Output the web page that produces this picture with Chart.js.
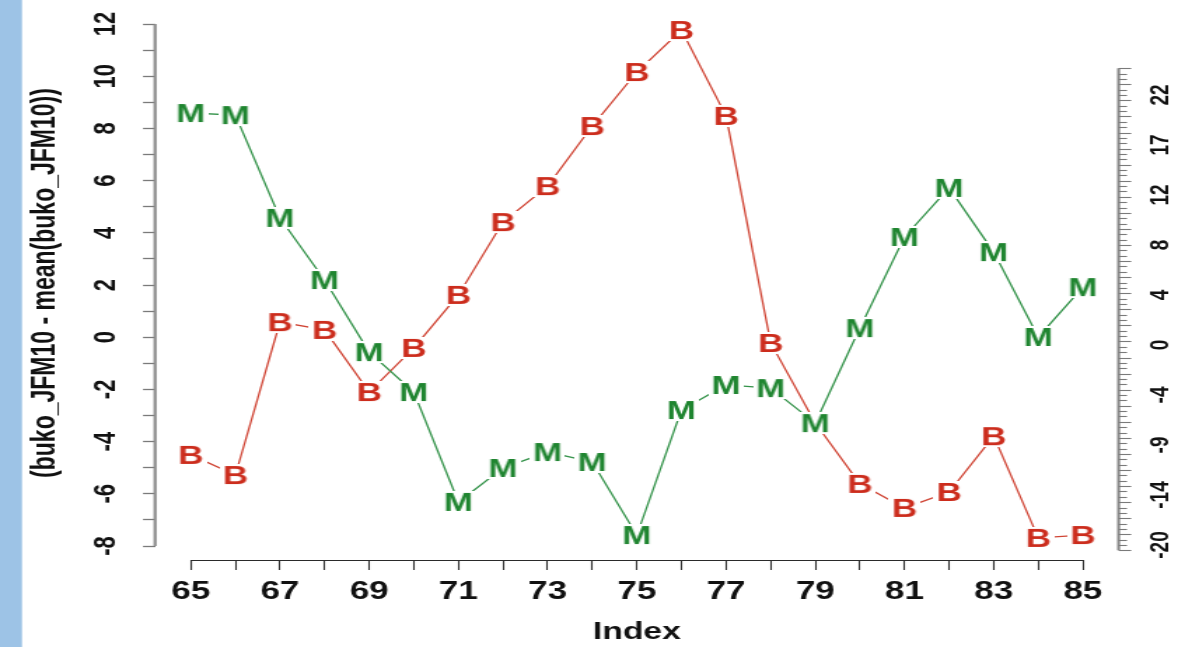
<!DOCTYPE html>
<html>
<head>
<meta charset="utf-8">
<script src="https://cdn.jsdelivr.net/npm/chart.js@4"></script>
<style>
html,body{margin:0;padding:0;background:#fff;overflow:hidden;width:1185px;height:647px;}
#wrap{position:absolute;left:0;top:0;width:846px;height:647px;transform-origin:0 0;transform:scaleX(1.40071);}
</style>
</head>
<body>
<div id="wrap"><canvas id="c" width="846" height="647"></canvas></div>
<script>
// ---- data ----
const indexYears = [65,66,67,68,69,70,71,72,73,74,75,76,77,78,79,80,81,82,83,84,85];
const bValues = [-4.51,-5.28,0.58,0.28,-2.10,-0.41,1.62,4.41,5.79,8.09,10.16,11.77,8.48,-0.22,-3.29,-5.62,-6.54,-5.93,-3.79,-7.69,-7.58];
const mValues = [8.59,8.51,4.57,2.19,-0.57,-2.10,-6.31,-5.01,-4.40,-4.78,-7.58,-2.79,-1.83,-1.95,-3.29,0.35,3.84,5.72,3.26,0.01,1.92];
const xTickValues = [65,66,67,68,69,70,71,72,73,74,75,76,77,78,79,80,81,82,83,84,85];
const leftTickValues = [-8,-7,-6,-5,-4,-3,-2,-1,0,1,2,3,4,5,6,7,8,9,10,11,12];
const rightTickLabels = ['-20','-14','-9','-4','0','4','8','12','17','22'];

const RMIN = -20, RMAX = 22;
const rightTickPositions = rightTickLabels.map((_, k) => RMIN + k * (RMAX - RMIN) / (rightTickLabels.length - 1));

const FONT = '"Liberation Sans", Arial, Helvetica, sans-serif';
const GREEN = '#1f8530', GREEN_LINE = '#34934a';
const RED = '#cc2c1c', RED_LINE = '#d04434';
const STRIP = '#9dc3e6';

function letterCanvas(ch, color) {
  const size = 25;
  const c = document.createElement('canvas');
  const g = c.getContext('2d');
  const f = 'bold ' + size + 'px ' + FONT;
  g.font = f;
  const w = Math.ceil(g.measureText(ch).width) + 4;
  const h = 22;
  c.width = w; c.height = h;
  g.font = f;
  g.fillStyle = '#ffffff';
  g.fillRect(0, 0, w, h);
  g.fillStyle = color;
  g.textAlign = 'center';
  g.textBaseline = 'alphabetic';
  g.fillText(ch, w / 2, h / 2 + 0.716 * size / 2);
  return c;
}
const mImg = letterCanvas('M', GREEN);
const bImg = letterCanvas('B', RED);

function noPad(s) { s.paddingTop = 0; s.paddingBottom = 0; s.paddingLeft = 0; s.paddingRight = 0; }

const decor = {
  id: 'decor',
  beforeDraw(chart) {
    const ctx = chart.ctx;
    ctx.save();
    ctx.fillStyle = '#fff';
    ctx.fillRect(0, 0, chart.width, chart.height);
    ctx.fillStyle = STRIP;
    ctx.fillRect(0, 0, 15.7, chart.height);
    ctx.restore();
  },
  afterDraw(chart) {
    const { ctx, scales: { x, y, y2 } } = chart;
    ctx.save();
    // x axis line (from first to last index)
    ctx.strokeStyle = '#2a2a2a';
    ctx.lineWidth = 1.2;
    ctx.beginPath();
    ctx.moveTo(x.getPixelForValue(xTickValues[0]), y.bottom + 0.5);
    ctx.lineTo(x.getPixelForValue(xTickValues[xTickValues.length - 1]), y.bottom + 0.5);
    ctx.stroke();
    // left axis line
    ctx.strokeStyle = '#8c8c8c';
    ctx.lineWidth = 2.2;
    ctx.beginPath();
    ctx.moveTo(y.right, y.getPixelForValue(leftTickValues[0]));
    ctx.lineTo(y.right, y.getPixelForValue(leftTickValues[leftTickValues.length - 1]));
    ctx.stroke();
    // right axis line + ruler ticks
    const rTop = RMAX + 2.5, rBot = RMIN - 0.5, step = 0.5;
    ctx.beginPath();
    ctx.moveTo(y2.left, y2.getPixelForValue(rBot));
    ctx.lineTo(y2.left, y2.getPixelForValue(rTop));
    ctx.stroke();
    ctx.strokeStyle = '#7a7a7a';
    ctx.lineWidth = 1.1;
    let k = 0;
    for (let v = rBot; v <= rTop + 1e-6; v += step, k++) {
      const py = Math.round(y2.getPixelForValue(v)) + 0.5;
      const len = (k % 3 === 0) ? 9 : 6;
      ctx.beginPath();
      ctx.moveTo(y2.left, py);
      ctx.lineTo(y2.left + len, py);
      ctx.stroke();
    }
    ctx.restore();
  }
};

new Chart(document.getElementById('c'), {
  type: 'line',
  data: {
    datasets: [
      {
        label: 'M',
        data: indexYears.map((v, i) => ({ x: v, y: mValues[i] })),
        yAxisID: 'y',
        borderColor: GREEN_LINE,
        borderWidth: 1.3,
        pointStyle: mImg,
        pointRadius: 10,
        pointHoverRadius: 10,
        tension: 0,
        fill: false
      },
      {
        label: 'B',
        data: indexYears.map((v, i) => ({ x: v, y: bValues[i] })),
        yAxisID: 'y',
        borderColor: RED_LINE,
        borderWidth: 1.3,
        pointStyle: bImg,
        pointRadius: 10,
        pointHoverRadius: 10,
        tension: 0,
        fill: false
      }
    ]
  },
  options: {
    responsive: false,
    animation: false,
    devicePixelRatio: 1,
    layout: { autoPadding: false, padding: { left: 0, right: 0, top: 6, bottom: 0 } },
    plugins: { legend: { display: false }, tooltip: { enabled: false } },
    scales: {
      x: {
        type: 'linear',
        min: 64.2, max: 85.8,
        afterBuildTicks: s => { s.ticks = xTickValues.map(v => ({ value: v })); },
        afterFit: s => { s.height = 87; noPad(s); },
        border: { display: false },
        grid: { display: true, drawOnChartArea: false, drawTicks: true, tickLength: 10, tickColor: '#333', tickWidth: 1.1 },
        ticks: {
          autoSkip: false, maxRotation: 0, minRotation: 0, padding: 7,
          color: '#111', font: { family: FONT, size: 25, weight: 'bold' },
          callback: v => (v % 2 !== 0 ? String(v) : '')
        },
        title: { display: true, text: 'Index', color: '#111', font: { family: FONT, size: 24, weight: 'bold' }, padding: { top: 0, bottom: 0 } }
      },
      y: {
        type: 'linear', position: 'left',
        min: -8.536, max: 12.69,
        afterBuildTicks: s => { s.ticks = leftTickValues.map(v => ({ value: v })); },
        afterFit: s => { s.width = 110.7; noPad(s); },
        border: { display: false },
        grid: { display: true, drawOnChartArea: false, drawTicks: true, tickLength: 8.6, tickColor: '#7a7a7a', tickWidth: 1.3 },
        ticks: {
          autoSkip: false, minRotation: 90, maxRotation: 90, crossAlign: 'center', padding: 14,
          color: '#111', font: { family: FONT, size: 22, weight: 'bold' },
          callback: v => (v % 2 === 0 ? String(v) : '')
        },
        title: { display: true, text: '(buko_JFM10 - mean(buko_JFM10))', color: '#111', font: { family: FONT, size: 23, weight: 'bold' }, padding: { top: 19, bottom: 0 } }
      },
      y2: {
        type: 'linear', position: 'right',
        min: -21.4, max: 30.307,
        afterBuildTicks: s => { s.ticks = rightTickPositions.map(v => ({ value: v })); },
        afterFit: s => { s.width = 846 - 798.6; noPad(s); },
        border: { display: false },
        grid: { display: true, drawOnChartArea: false, drawTicks: false },
        ticks: {
          autoSkip: false, minRotation: 90, maxRotation: 90, crossAlign: 'center', padding: 16,
          color: '#111', font: { family: FONT, size: 19, weight: 'bold' },
          callback: (v, i) => rightTickLabels[i]
        }
      }
    }
  },
  plugins: [decor]
});
</script>
</body>
</html>
